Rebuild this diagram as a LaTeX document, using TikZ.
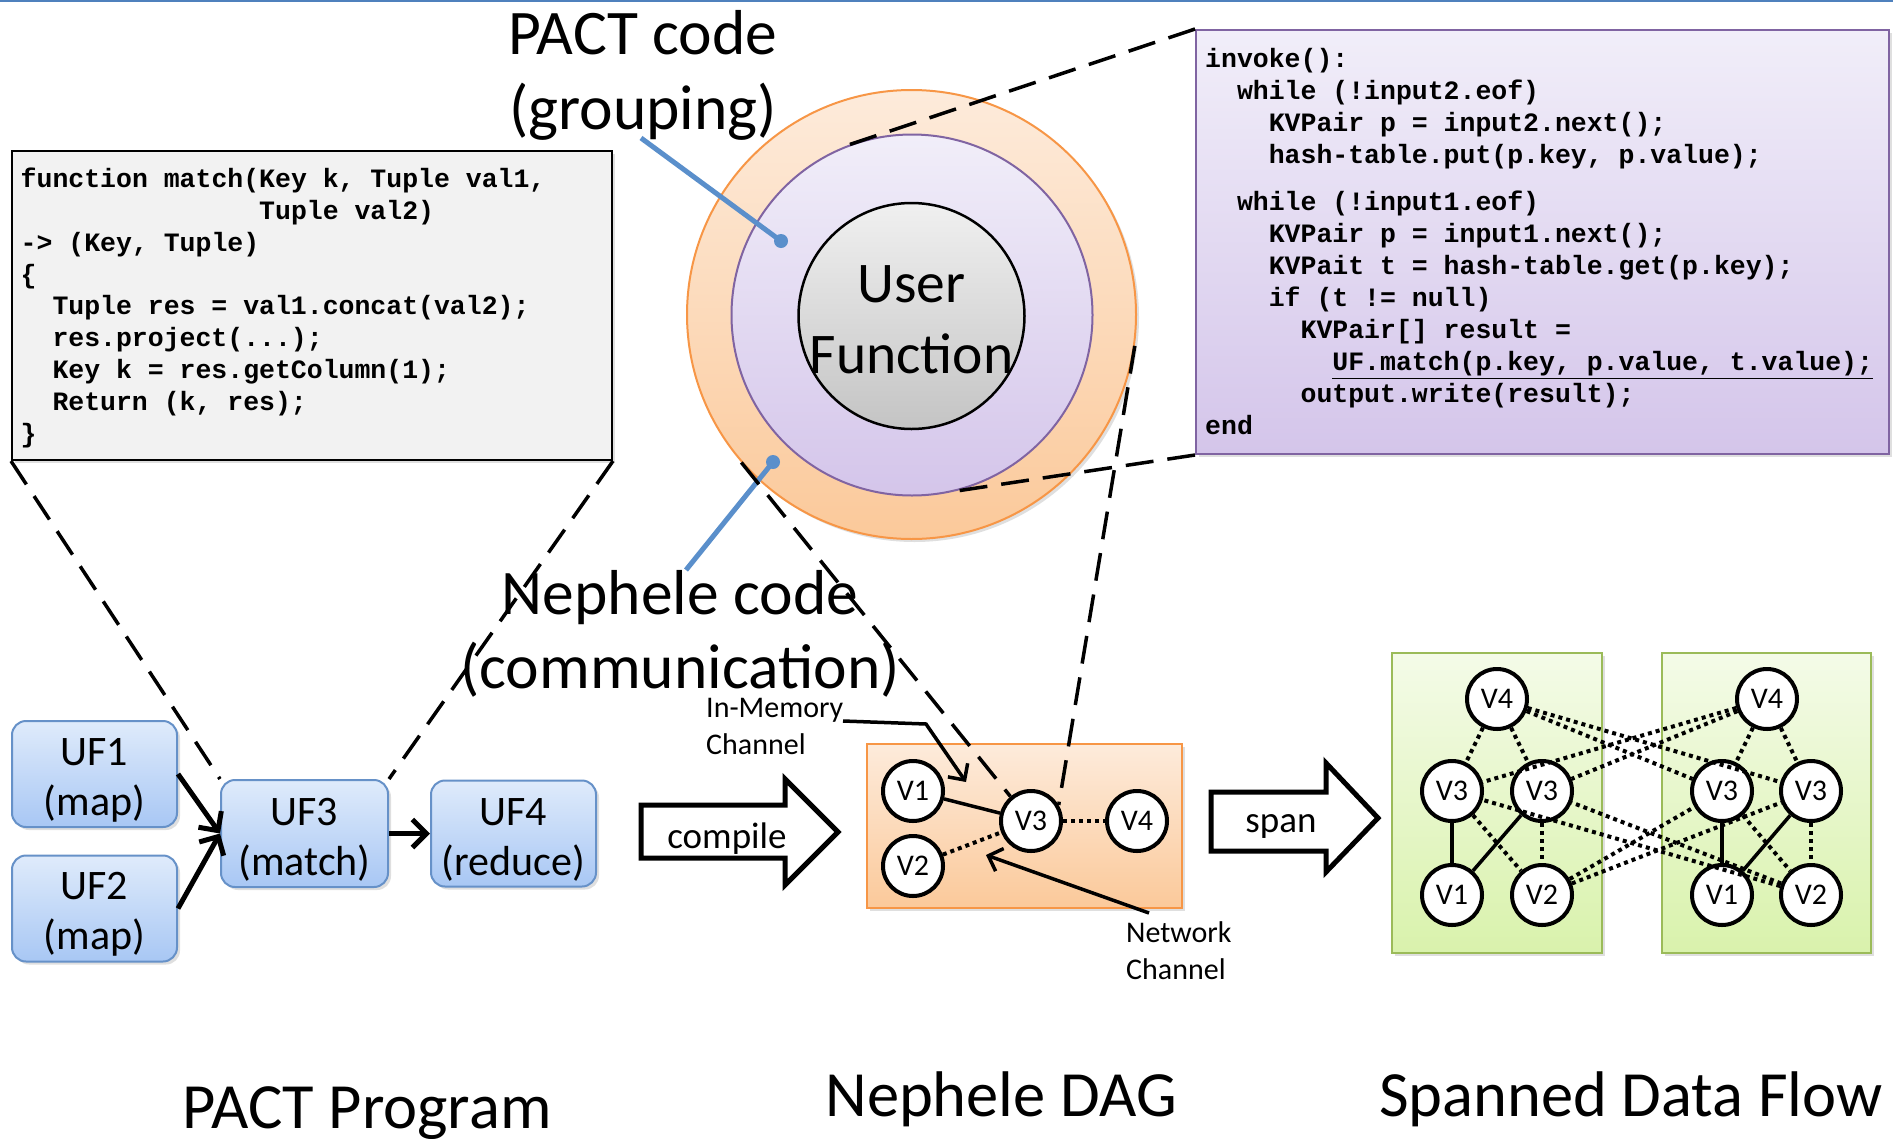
\documentclass[tikz,border=0pt]{standalone}
\usepackage{fontspec}
\setmainfont{Carlito}
\newfontfamily\codefont{Liberation Mono}
\usetikzlibrary{arrows.meta,shadows}
\definecolor{topblue}{HTML}{4F81BD}
\definecolor{leadblue}{HTML}{5A8FCB}
\definecolor{orbord}{HTML}{F79646}
\definecolor{ortop}{HTML}{FDEBDB}
\definecolor{orbot}{HTML}{FBC99A}
\definecolor{purbord}{HTML}{8064A2}
\definecolor{purtop}{HTML}{F1EEF9}
\definecolor{purbot}{HTML}{D4C5EA}
\definecolor{greytop}{HTML}{F0F0F0}
\definecolor{greybot}{HTML}{C4C4C4}
\definecolor{grtop}{HTML}{F4FBE8}
\definecolor{grbot}{HTML}{D9F2AC}
\definecolor{grbord}{HTML}{9BBB59}
\definecolor{bltop}{HTML}{DFEBFB}
\definecolor{blbot}{HTML}{A8C7F4}
\definecolor{blbord}{HTML}{6691C8}
\definecolor{codegrey}{HTML}{F2F2F2}
\newcommand{\ind}[1]{\hspace*{#1em}}
\begin{document}
\begin{tikzpicture}[x=1pt,y=-1pt,
  shadowed/.style={drop shadow={opacity=0.25,shadow xshift=3pt,shadow yshift=-3pt}},
  vnode/.style={circle,draw,line width=4pt,fill=white,minimum size=60pt,inner sep=0pt,font=\fontsize{30}{36}\selectfont},
  ufbox/.style={rounded corners=14pt,draw=blbord,line width=2pt,top color=bltop,bottom color=blbot,minimum width=165pt,minimum height=106pt,inner sep=0pt,shadowed},
  uftext/.style={align=center,font=\fontsize{42}{50}\selectfont,inner sep=0pt},
  zoomline/.style={dash pattern=on 28pt off 14pt,line width=3.5pt},
  dotline/.style={dash pattern=on 4pt off 4pt,line width=4pt},
  thickarrow/.style={line width=5pt,-{Straight Barb[length=14pt,width=28pt,line width=5pt]}},
  calloutarrow/.style={line width=3.5pt,-{Straight Barb[length=12pt,width=24pt,line width=3.5pt]}},
  leader/.style={leadblue,line width=5pt},
  biglabel/.style={font=\fontsize{63.5}{75}\selectfont,inner sep=0pt},
  bottomlabel/.style={font=\fontsize{64.5}{75}\selectfont,inner sep=0pt},
  smalllabel/.style={font=\fontsize{30}{37}\selectfont,inner sep=0pt,align=left},
  codetext/.style={font=\codefont\bfseries\fontsize{26.5}{31.8}\selectfont\frenchspacing,inner sep=0pt,align=left},
  blockarrow/.style={draw,line width=5pt,fill=white,line join=miter},
  greenbox/.style={draw=grbord,line width=2pt,top color=grtop,bottom color=grbot,minimum width=210pt,minimum height=300pt,shadowed}
]
\useasboundingbox (0,0) rectangle (1893,1138);
\fill[white] (0,0) rectangle (1893,1138);
\draw[topblue,line width=2.5pt] (0,1.2) -- (1893,1.2);

% left code box
\node[draw=black,line width=2pt,fill=codegrey,minimum width=600pt,minimum height=309pt,shadowed] (codeL) at (312,305.5) {};
\node[codetext,anchor=north west] (codeLtxt) at (20.5,168) {function match(Key k, Tuple val1,\\
\ind{9}Tuple val2)\\
-> (Key, Tuple)\\
\{\\
\ind{1.2}Tuple res = val1.concat(val2);\\
\ind{1.2}res.project(...);\\
\ind{1.2}Key k = res.getColumn(1);\\
\ind{1.2}Return (k, res);\\
\}};

% right code box
\node[draw=purbord,line width=2pt,top color=purtop,bottom color=purbot,minimum width=693pt,minimum height=424pt,shadowed] (codeR) at (1542.5,242) {};
\node[codetext,anchor=north west,font=\codefont\bfseries\fontsize{26.5}{32}\selectfont\frenchspacing] (codeRtxt) at (1205,48.5) {invoke():\\
\ind{1.2}while (!input2.eof)\\
\ind{2.4}KVPair p = input2.next();\\
\ind{2.4}hash-table.put(p.key, p.value);\\[15pt]
\ind{1.2}while (!input1.eof)\\
\ind{2.4}KVPair p = input1.next();\\
\ind{2.4}KVPait t = hash-table.get(p.key);\\
\ind{2.4}if (t != null)\\
\ind{3.6}KVPair{[]} result =\\
\ind{4.8}\underline{UF.match(p.key, p.value, t.value);}\\
\ind{3.6}output.write(result);\\
end};

% circles
\node[circle,minimum size=449pt,draw=orbord,line width=2pt,top color=ortop,bottom color=orbot,shadowed] (outer) at (911.5,314.5) {};
\node[circle,minimum size=361pt,draw=purbord,line width=2pt,top color=purtop,bottom color=purbot] (mid) at (912,315) {};
\node[circle,minimum size=226pt,draw=black,line width=2.5pt,top color=greytop,bottom color=greybot] (inner) at (911.5,316) {};
\node[font=\fontsize{57.5}{70}\selectfont,inner sep=0pt,anchor=base] (userl) at (911.5,302) {User};
\node[font=\fontsize{57.5}{70}\selectfont,inner sep=0pt,anchor=base] (funcl) at (911.5,373) {Function};

% big labels
\node[biglabel,anchor=base] (pact1) at (643,54) {PACT code};
\node[biglabel,anchor=base] (pact2) at (643,129) {(grouping)};
\node[biglabel,anchor=base] (neph1) at (680,614) {Nephele code};
\node[biglabel,anchor=base] (neph2) at (680,688) {(communication)};

% leader lines
\coordinate (ldA) at (641,138);
\node[circle,fill=leadblue,minimum size=14pt,inner sep=0pt] (dotA) at (781,241) {};
\draw[leader] (ldA) -- (dotA.center);
\coordinate (ldB) at (686,570);
\node[circle,fill=leadblue,minimum size=14pt,inner sep=0pt] (dotB) at (773,462) {};
\draw[leader] (ldB) -- (dotB.center);

% PACT program
\node[ufbox] (uf1) at (94.5,774) {};
\node[ufbox] (uf2) at (94.5,908.5) {};
\node[ufbox,minimum width=167pt,minimum height=107pt] (uf3) at (304.5,833.5) {};
\node[ufbox] (uf4) at (513.5,833.5) {};
\node[uftext] (uf1t) at (94.5,780) {UF1\\(map)};
\node[uftext] (uf2t) at (94.5,914.5) {UF2\\(map)};
\node[uftext] (uf3t) at (304.5,839.5) {UF3\\(match)};
\node[uftext] (uf4t) at (513.5,839.5) {UF4\\(reduce)};
\draw[thickarrow] (uf1.east) -- (uf3.west);
\draw[thickarrow] (uf2.east) -- (uf3.west);
\draw[thickarrow] (uf3.east) -- (uf4.west);

% compile arrow
\draw[blockarrow] (641,805) -- (785,805) -- (785,779) -- (838,832) -- (785,885) -- (785,858) -- (641,858) -- cycle;
\node[font=\fontsize{37}{44}\selectfont,inner sep=0pt] (compilel) at (727,839) {compile};

% Nephele DAG
\node[draw=orbord,line width=2pt,top color=ortop,bottom color=orbot,minimum width=315pt,minimum height=164pt,shadowed] (dag) at (1024.5,826) {};
\node[vnode] (dv1) at (913,791) {V1};
\node[vnode] (dv2) at (913,866) {V2};
\node[vnode] (dv3) at (1031,821) {V3};
\node[vnode] (dv4) at (1137,821) {V4};
\draw[line width=3.5pt] (dv1) -- (dv3);
\draw[dotline] (dv2) -- (dv3);
\draw[dotline] (dv3) -- (dv4);

\node[smalllabel,anchor=west] (inmem) at (706,726) {In-Memory\\Channel};
\coordinate (imA) at (843,721);
\coordinate (imB) at (926,724);
\coordinate (imC) at (966,782);
\draw[calloutarrow] (imA) -- (imB) -- (imC);
\node[smalllabel,anchor=west] (netw) at (1126,951) {Network\\Channel};
\coordinate (ntA) at (1149,913);
\coordinate (ntB) at (986,855);
\draw[calloutarrow] (ntA) -- (ntB);

% zoom lines
\draw[zoomline] (codeL.south west) -- (uf3.north west);
\draw[zoomline] (codeL.south east) -- (uf3.north east);
\draw[zoomline] (codeR.north west) -- (mid.110);
\draw[zoomline] (codeR.south west) -- (mid.-76);
\draw[zoomline] (outer.221) -- (dv3.130);
\draw[zoomline] (outer.-8) -- (dv3.30);

% span arrow
\draw[blockarrow] (1211,792) -- (1326,792) -- (1326,763) -- (1378,818) -- (1326,872) -- (1326,851) -- (1211,851) -- cycle;
\node[font=\fontsize{37}{44}\selectfont,inner sep=0pt] (spanl) at (1281,826) {span};

% spanned data flow
\node[greenbox] (gboxL) at (1497,803) {};
\node[greenbox,minimum width=209pt] (gboxR) at (1766.5,803) {};
\node[vnode] (gl4) at (1497,699) {V4};
\node[vnode] (gl3a) at (1452,791) {V3};
\node[vnode] (gl3b) at (1542,791) {V3};
\node[vnode] (gl1) at (1452,895) {V1};
\node[vnode] (gl2) at (1542,895) {V2};
\node[vnode] (gr4) at (1767,699) {V4};
\node[vnode] (gr3a) at (1722,791) {V3};
\node[vnode] (gr3b) at (1811,791) {V3};
\node[vnode] (gr1) at (1722,895) {V1};
\node[vnode] (gr2) at (1811,895) {V2};
\draw[line width=3.5pt] (gl3a) -- (gl1);
\draw[line width=3.5pt] (gl3b) -- (gl1);
\draw[line width=3.5pt] (gr3a) -- (gr1);
\draw[line width=3.5pt] (gr3b) -- (gr1);
\foreach \a/\b in {gl3b/gl2,gl3a/gl2,gr3b/gr2,gr3a/gr2,gl4/gl3a,gl4/gl3b,gr4/gr3a,gr4/gr3b,gl4/gr3a,gl4/gr3b,gr4/gl3a,gr4/gl3b,gl2/gr3a,gl2/gr3b,gr2/gl3a,gr2/gl3b}
  \draw[dotline] (\a) -- (\b);

% bottom titles
\node[bottomlabel,anchor=base] (tpact) at (367,1128) {PACT Program};
\node[bottomlabel,anchor=base] (tneph) at (1001,1116) {Nephele DAG};
\node[bottomlabel,anchor=base] (tspan) at (1631,1116) {Spanned Data Flow};
\end{tikzpicture}
\end{document}
